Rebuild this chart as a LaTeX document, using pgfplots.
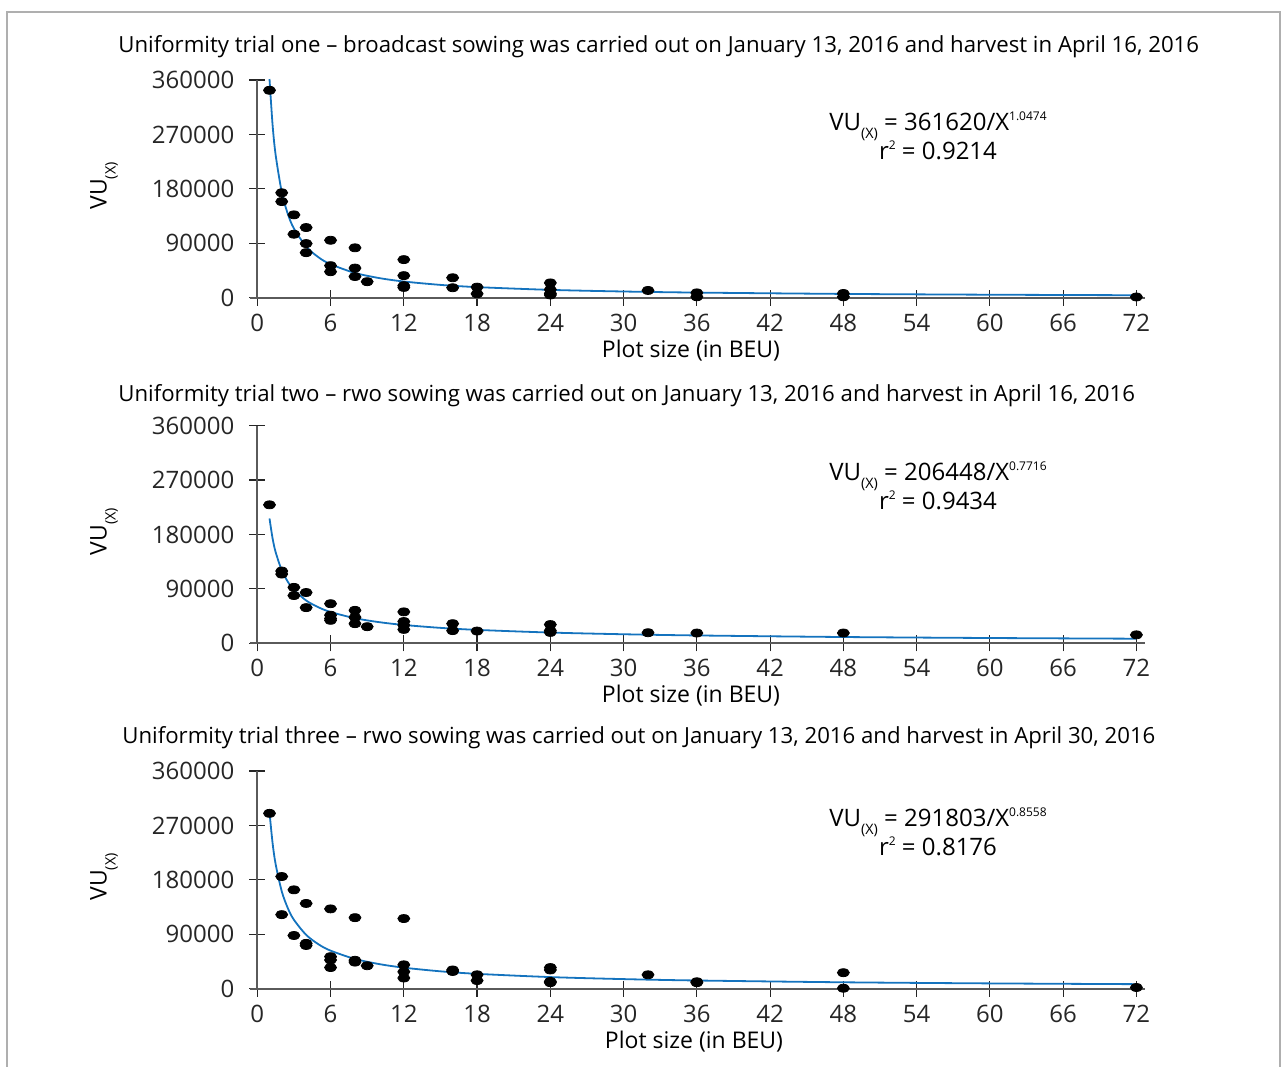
\documentclass[border=0pt]{standalone}
\usepackage{fontspec}
\setmainfont{Open Sans}
\usepackage{pgfplots}
\pgfplotsset{compat=1.18}
\definecolor{fitblue}{RGB}{20,115,190}
\definecolor{axgray}{RGB}{90,90,90}
\definecolor{framegray}{RGB}{175,175,175}
\newcommand{\subx}[1]{\raisebox{-4.4pt}{\fontsize{7.2}{7.2}\selectfont #1}}
\newcommand{\supx}[1]{\raisebox{4.8pt}{\fontsize{6}{6}\selectfont #1}}
\newcommand{\titlefont}{\fontsize{11.1}{13}\selectfont}
\newcommand{\labfont}{\fontsize{11.5}{13}\selectfont}
\newcommand{\eqfont}{\fontsize{12}{14}\selectfont}

\pgfplotsset{
  panel/.style={
    scale only axis, width=443.83pt, height=108.85pt,
    xmin=0, xmax=72.7, ymin=0, ymax=360000,
    axis lines*=left,
    axis line style={-, axgray, line width=1pt},
    xtick={0,6,...,72}, ytick={0,90000,...,360000},
    tick align=center, major tick length=8pt,
    tick style={black!85, line width=0.6pt},
    scaled y ticks=false,
    /pgf/number format/assume math mode=true,
    yticklabel style={/pgf/number format/fixed, /pgf/number format/1000 sep={}, xshift=-4pt},
    xticklabel style={yshift=-0.5pt},
    ticklabel style={font=\fontsize{12}{14}\selectfont, text=black!85},
    clip=false,
    anchor=south west,
  },
  pts/.style={only marks, mark=*, mark size=2pt, mark options={xscale=1.5, fill=black, draw=black}},
  fit/.style={no marks, smooth, fitblue, line width=0.9pt},
}

\begin{document}
\begin{tikzpicture}
\useasboundingbox (0,0) rectangle (641pt,-533.5pt);
\draw[framegray, line width=1pt] (3.5pt,-540pt) -- (3.5pt,-6pt) -- (640pt,-6pt) -- (640pt,-540pt);

% ---------- Panel 1 ----------
\begin{axis}[panel, at={(128.65pt,-148.85pt)}]
\draw[axgray, line width=1pt] (axis cs:-0.6,0) -- (axis cs:0,0);
\addplot[fit] coordinates {(1,361620)(1.25,286250)(1.5,236490)(2,174970)(2.5,138500)(3,114420)(4,84650)(5,67010)(6,55360)(8,40960)(10,32420)(12,26790)(15,21200)(18,17520)(24,12960)(30,10260)(36,8480)(48,6270)(60,4960)(72,4100)};
\addplot[pts] coordinates {
(1,343000)
(2,173500)(2,159000)
(3,137000)(3,105000)
(4,116000)(4,89500)(4,74500)
(6,95000)(6,53000)(6,43000)
(8,82500)(8,49000)(8,35000)
(9,26500)
(12,63000)(12,36500)(12,20000)(12,17000)
(16,33000)(16,16500)
(18,17500)(18,6500)
(24,24500)(24,13500)(24,7000)(24,4500)
(32,12000)
(36,8000)(36,1500)
(48,7000)(48,1500)
(72,1200)};
\end{axis}
\node[anchor=base west, inner xsep=0pt, font=\titlefont] at (59pt,-26pt) {Uniformity trial one – broadcast sowing was carried out on January 13, 2016 and harvest in April 16, 2016};
\node[anchor=base, font=\labfont] at (345.5pt,-178.65pt) {Plot size (in BEU)};
\node[anchor=base, rotate=90, font=\labfont] at (53.35pt,-93pt) {VU\subx{(X)}};
\node[anchor=base, font=\eqfont] at (469pt,-65pt) {VU\subx{(X)} = 361620/X\supx{1.0474}};
\node[anchor=base, font=\eqfont] at (469pt,-79.5pt) {r\supx{2} = 0.9214};

% ---------- Panel 2 ----------
\begin{axis}[panel, at={(128.65pt,-321.65pt)}]
\draw[axgray, line width=1pt] (axis cs:-0.6,0) -- (axis cs:0,0);
\addplot[fit] coordinates {(1,206448)(1.25,173790)(1.5,150990)(2,120930)(2.5,101800)(3,88440)(4,70840)(5,59630)(6,51810)(8,41490)(10,34930)(12,30350)(15,25550)(18,22200)(24,17780)(30,14970)(36,13000)(48,10410)(60,8770)(72,7620)};
\addplot[pts] coordinates {
(1,229000)
(2,119500)(2,114500)
(3,92500)(3,79000)
(4,84000)(4,59000)
(6,65500)(6,46500)(6,41000)(6,38000)
(8,54500)(8,43000)(8,32500)
(9,27500)
(12,52000)(12,36000)(12,30000)(12,23000)
(16,32500)(16,21000)
(18,20300)
(24,31000)(24,21000)(24,18000)
(32,17500)
(36,17000)
(48,17000)
(72,14000)};
\end{axis}
\node[anchor=base west, inner xsep=0pt, font=\titlefont] at (59pt,-200.5pt) {Uniformity trial two – rwo sowing was carried out on January 13, 2016 and harvest in April 16, 2016};
\node[anchor=base, font=\labfont] at (345.5pt,-351.45pt) {Plot size (in BEU)};
\node[anchor=base, rotate=90, font=\labfont] at (53.35pt,-265.8pt) {VU\subx{(X)}};
\node[anchor=base, font=\eqfont] at (469pt,-240pt) {VU\subx{(X)} = 206448/X\supx{0.7716}};
\node[anchor=base, font=\eqfont] at (469pt,-254.5pt) {r\supx{2} = 0.9434};

% ---------- Panel 3 ----------
\begin{axis}[panel, at={(128.65pt,-494.35pt)}]
\draw[axgray, line width=1pt] (axis cs:-0.6,0) -- (axis cs:0,0);
\addplot[fit] coordinates {(1,291803)(1.25,241080)(1.5,206250)(2,161240)(2.5,133210)(3,113960)(4,89090)(5,73600)(6,62970)(8,49230)(10,40670)(12,34790)(15,28750)(18,24590)(24,19230)(30,15880)(36,13590)(48,10620)(60,8780)(72,7510)};
\addplot[pts] coordinates {
(1,290000)
(2,185500)(2,122500)
(3,163500)(3,88000)
(4,141000)(4,75000)(4,71500)
(6,132000)(6,53000)(6,47500)(6,35000)
(8,117500)(8,47000)(8,44000)
(9,38000)
(12,116000)(12,39500)(12,28000)(12,17700)
(16,31000)(16,28500)
(18,23000)(18,13500)
(24,35000)(24,31000)(24,12000)(24,10000)
(32,23000)
(36,11500)(36,10000)
(48,26500)(48,800)
(72,2000)};
\end{axis}
\node[anchor=base west, inner xsep=0pt, font=\titlefont] at (61pt,-371.5pt) {Uniformity trial three – rwo sowing was carried out on January 13, 2016 and harvest in April 30, 2016};
\node[anchor=base, font=\labfont] at (347pt,-524.15pt) {Plot size (in BEU)};
\node[anchor=base, rotate=90, font=\labfont] at (53.35pt,-438.5pt) {VU\subx{(X)}};
\node[anchor=base, font=\eqfont] at (469pt,-413pt) {VU\subx{(X)} = 291803/X\supx{0.8558}};
\node[anchor=base, font=\eqfont] at (469pt,-427.5pt) {r\supx{2} = 0.8176};
\end{tikzpicture}
\end{document}
